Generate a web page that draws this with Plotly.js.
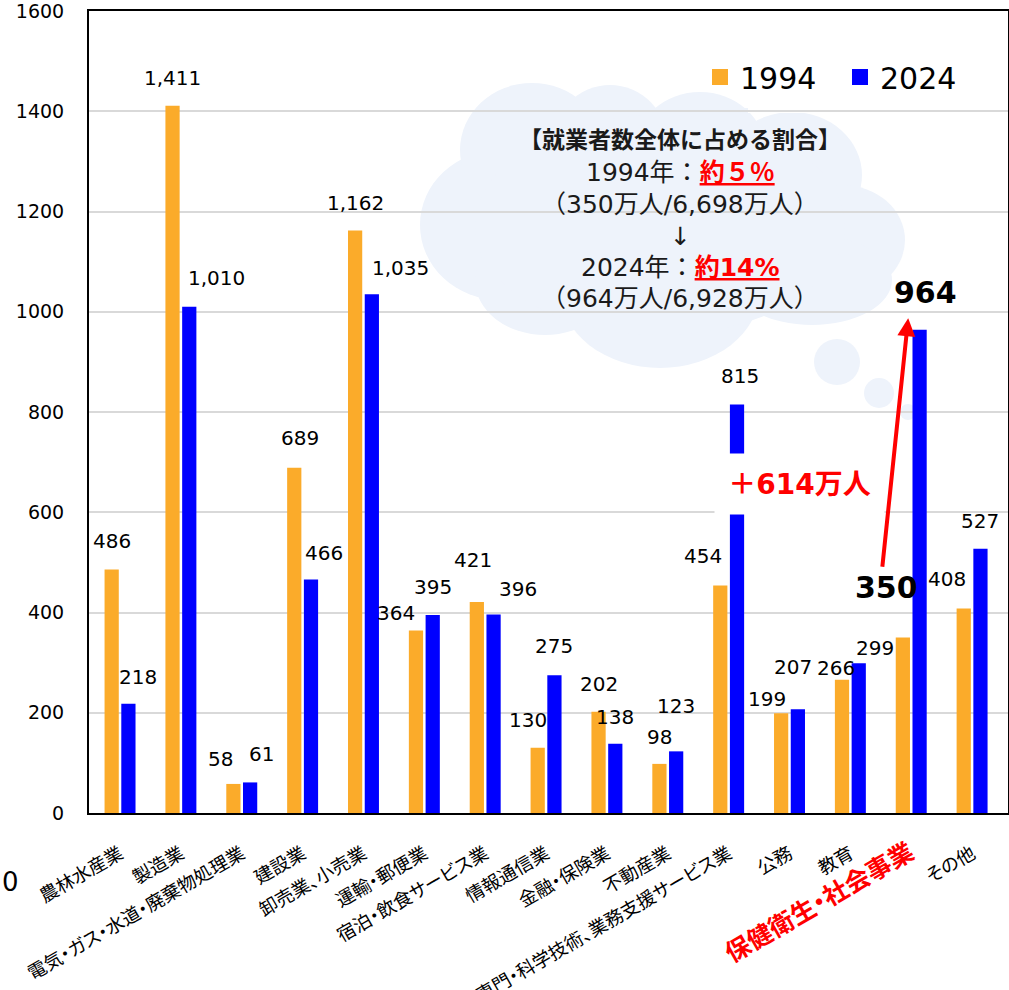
<!DOCTYPE html>
<html>
<head>
<meta charset="utf-8">
<script src="https://cdn.plot.ly/plotly-3.0.1.min.js"></script>
<style>
  html, body { margin: 0; padding: 0; background: #ffffff; }
  #chart { width: 1009px; height: 990px; }
</style>
</head>
<body>
<div id="chart"></div>
<script>
// ---------------- data ----------------
const categories = [
  "農林水産業", "製造業", "電気・ガス・水道・廃棄物処理業", "建設業", "卸売業、小売業",
  "運輸・郵便業", "宿泊・飲食サービス業", "情報通信業", "金融・保険業", "不動産業",
  "専門・科学技術、業務支援サービス業", "公務", "教育", "保健衛生・社会事業", "その他"
];
const values1994 = [486, 1411, 58, 689, 1162, 364, 421, 130, 202, 98, 454, 199, 266, 350, 408];
const values2024 = [218, 1010, 61, 466, 1035, 395, 396, 275, 138, 123, 815, 207, 299, 964, 527];
const seriesNames = ["1994", "2024"];
const yTickValues = [0, 200, 400, 600, 800, 1000, 1200, 1400, 1600];
const highlightCategory = "保健衛生・社会事業";
const cloudTitle = "【就業者数全体に占める割合】";
const cloudLine1 = ["1994年：", "約５％"];
const cloudLine2 = "（350万人/6,698万人）";
const cloudArrow = "↓";
const cloudLine3 = ["2024年：", "約14%"];
const cloudLine4 = "（964万人/6,928万人）";
const increaseLabel = "＋614万人";

// ---------------- style / layout tweaks ----------------
const COLOR_1994 = "#FBAB2A";
const COLOR_2024 = "#0000FF";
const CLOUD_COLOR = "#EEF3FB";
const NUM_FONT = "DejaVu Sans, Verdana, sans-serif";
const JP_FONT = "Noto Sans CJK JP, sans-serif";
const MIX_FONT = "DejaVu Sans, Noto Sans CJK JP, sans-serif";

// per-label pixel nudges (label centre relative to bar top)
const dx1994 = [0, 0, -13, 6, 0, -20, -4, -10, 0, 0, -17, -14, -6, -16, -17];
const dy1994 = [28, 28, 25, 30, 28, 18, 42, 28, 28, 27, 29, 14, 12, 50, 29];
const dx2024 = [10, 27, 11, 13, 29, 0, 24, 0, 0, 0, 3, -5, 16, 6, 0];
const dy2024 = [27, 29, 28, 26, 26, 28, 26, 29, 27, 45, 28, 42, 15, 37, 28];

const W = 1009, H = 990;
const M = { l: 89, r: 1, t: 11, b: 177 };
const PW = W - M.l - M.r, PH = H - M.t - M.b;
const BARGAP = 0.45, BARGROUPGAP = 0.15;
const barOffset = (1 - BARGAP) / 4;

// pixel -> paper helpers (for decorative items only)
const px = x => (x - M.l) / PW;
const py = y => (M.t + PH - y) / PH;

// cloud built from overlapping lobes (pixel centre, radii)
const cloudLobes = [
  [500, 225, 80, 75], [532, 150, 72, 67], [610, 145, 58, 60], [700, 150, 65, 58],
  [792, 175, 70, 63], [842, 240, 63, 55], [812, 280, 80, 45], [660, 290, 100, 78],
  [545, 280, 70, 55], [660, 225, 185, 110],
  [837, 362, 23, 23], [879, 393, 15, 15], [908, 412, 8, 8]
];

// ---------------- traces ----------------
const traces = [
  { type: "bar", name: seriesNames[0], x: categories, y: values1994,
    marker: { color: COLOR_1994 }, showlegend: false, legendgroup: "a" },
  { type: "bar", name: seriesNames[1], x: categories, y: values2024,
    marker: { color: COLOR_2024 }, showlegend: false, legendgroup: "b" },
  { type: "scatter", mode: "markers", name: seriesNames[0], x: [null], y: [null],
    marker: { symbol: "square", size: 16, color: COLOR_1994 }, legendgroup: "a" },
  { type: "scatter", mode: "markers", name: seriesNames[1], x: [null], y: [null],
    marker: { symbol: "square", size: 16, color: COLOR_2024 }, legendgroup: "b" }
];

// ---------------- annotations ----------------
const annotations = [];
function addLabels(vals, sign, dxs, dys) {
  vals.forEach((v, i) => {
    const hl = categories[i] === highlightCategory;
    annotations.push({
      x: i + sign * barOffset, y: v, xref: "x", yref: "y",
      text: hl ? "<b>" + v.toLocaleString("en-US") + "</b>" : v.toLocaleString("en-US"),
      showarrow: false, xanchor: "center", yanchor: "middle",
      xshift: dxs[i], yshift: dys[i],
      font: { family: NUM_FONT, size: hl ? 30 : 20, color: "#000000" }
    });
  });
}
addLabels(values1994, -1, dx1994, dy1994);
addLabels(values2024, +1, dx2024, dy2024);

const hlIndex = categories.indexOf(highlightCategory);
const spIndex = categories.indexOf("専門・科学技術、業務支援サービス業");

// red arrow from the 1994 highlight value up to the 2024 value
annotations.push({
  x: hlIndex - 0.05, y: values2024[hlIndex] + 23, xref: "x", yref: "y",
  text: "", showarrow: true, arrowhead: 2, arrowsize: 0.9, arrowwidth: 4,
  arrowcolor: "#FF0000", ax: -26, ay: 250, standoff: 0, startstandoff: 0
});

// +614万人 label on white box
annotations.push({
  x: spIndex + 1.165, y: 656, xref: "x", yref: "y",
  text: "<b>" + increaseLabel + "</b>", showarrow: false,
  bgcolor: "#FFFFFF", width: 167, height: 58, valign: "middle",
  font: { family: MIX_FONT, size: 28, color: "#FF0000" }
});

// cloud text, one annotation per line
const red = s => '<b><span style="color:#FF0000;text-decoration:underline">' + s + '</span></b>';
const cloudRows = [
  { t: "<b>" + cloudTitle + "</b>", y: 140, s: 23 },
  { t: cloudLine1[0] + red(cloudLine1[1]), y: 172, s: 25 },
  { t: cloudLine2, y: 204, s: 25 },
  { t: cloudArrow, y: 236, s: 25 },
  { t: cloudLine3[0] + red(cloudLine3[1]), y: 267, s: 25 },
  { t: cloudLine4, y: 298, s: 25 }
];
cloudRows.forEach(r => annotations.push({
  x: px(680), y: py(r.y), xref: "paper", yref: "paper", text: r.t,
  showarrow: false, xanchor: "center", yanchor: "middle",
  font: { family: MIX_FONT, size: r.s, color: "#1a1a1a" }
}));

// stray "0" at far left
annotations.push({
  x: px(0), y: py(882), xref: "paper", yref: "paper", text: "0",
  showarrow: false, xanchor: "left", yanchor: "middle",
  font: { family: NUM_FONT, size: 26, color: "#000000" }
});

// ---------------- shapes ----------------
const shapes = cloudLobes.map(e => ({
  type: "circle", xref: "paper", yref: "paper", layer: "below",
  x0: px(e[0] - e[2]), x1: px(e[0] + e[2]), y0: py(e[1] + e[3]), y1: py(e[1] - e[3]),
  fillcolor: CLOUD_COLOR, line: { width: 0 }
}));
// legend area hides the top gridline (cloud colour where the cloud lies, white elsewhere)
shapes.push({ type: "rect", xref: "paper", yref: "paper", layer: "between",
  x0: px(677), x1: px(748), y0: py(113), y1: py(108),
  fillcolor: CLOUD_COLOR, line: { width: 0 } });
shapes.push({ type: "rect", xref: "paper", yref: "paper", layer: "between",
  x0: px(748), x1: px(982), y0: py(113), y1: py(108),
  fillcolor: "#FFFFFF", line: { width: 0 } });

// ---------------- layout ----------------
const PALT = "font-feature-settings:'palt'";
const tickText = categories.map(c => c === highlightCategory
  ? '<b><span style="color:#FF0000;font-size:25px;' + PALT + '">' + c + '</span></b>'
  : '<span style="' + PALT + '">' + c + '</span>');

const layout = {
  width: W, height: H,
  margin: M,
  paper_bgcolor: "#FFFFFF", plot_bgcolor: "#FFFFFF",
  barmode: "group", bargap: BARGAP, bargroupgap: BARGROUPGAP,
  showlegend: true,
  legend: {
    orientation: "h", x: px(700), y: py(77), xanchor: "left", yanchor: "middle",
    bgcolor: "rgba(0,0,0,0)", font: { family: NUM_FONT, size: 30, color: "#000000" },
    entrywidth: 95, entrywidthmode: "pixels",
    itemclick: false, itemdoubleclick: false
  },
  xaxis: {
    type: "category", range: [-0.51, 14.59],
    tickvals: categories, ticktext: tickText, tickangle: -30,
    tickfont: { family: JP_FONT, size: 18.5, color: "#000000" },
    ticklabelstandoff: 21,
    showline: true, linecolor: "#000000", linewidth: 2, mirror: true,
    showgrid: false, ticks: "", zeroline: false, fixedrange: true
  },
  yaxis: {
    range: [0, 1600.01], tickvals: yTickValues, ticktext: yTickValues.map(String),
    tickfont: { family: NUM_FONT, size: 19, color: "#000000" },
    ticks: "", ticklabelstandoff: 19, ticklabeloverflow: "allow",
    showgrid: true, gridcolor: "#D9D9D9", gridwidth: 2,
    showline: true, linecolor: "#000000", linewidth: 2, mirror: true,
    zeroline: false, fixedrange: true
  },
  annotations: annotations,
  shapes: shapes
};

Plotly.newPlot("chart", traces, layout, { displayModeBar: false, staticPlot: true });
</script>
</body>
</html>
